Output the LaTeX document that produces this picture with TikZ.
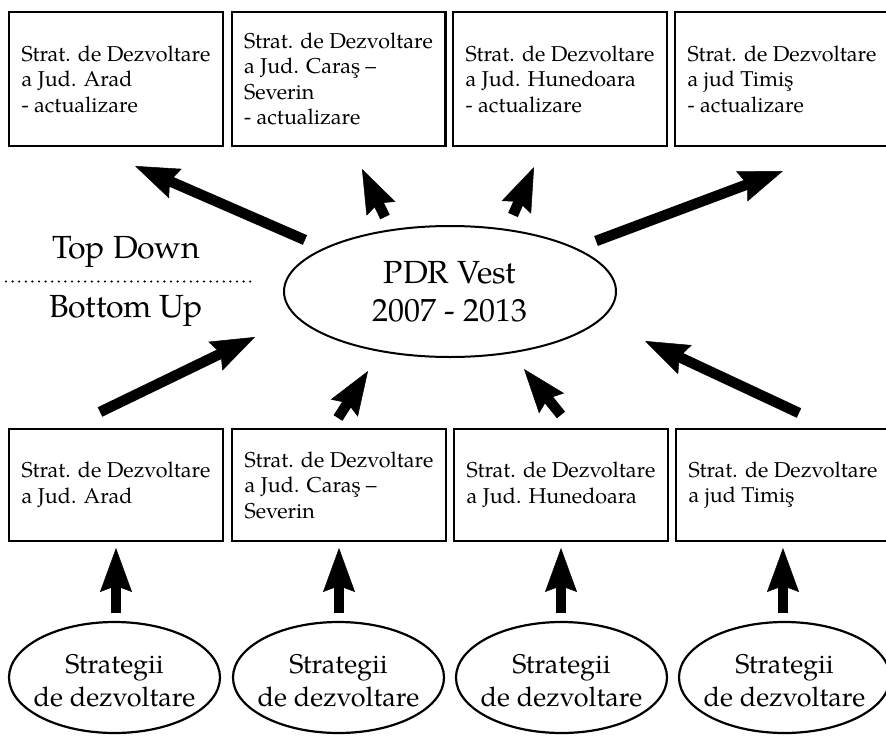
\documentclass[tikz,border=0pt]{standalone}
\usepackage{fontspec}
\setmainfont{TeX Gyre Pagella}
\usetikzlibrary{shapes.geometric,arrows.meta}

\begin{document}
\begin{tikzpicture}[x=1pt,y=-1pt,
  stratbox/.style={draw, line width=2.4pt, rectangle, inner sep=0pt,
    minimum width=213.6pt, align=left,
    font=\fontsize{21.5}{25.5}\selectfont},
  topbox/.style={stratbox, minimum height=133.6pt},
  botbox/.style={stratbox, minimum height=111.6pt},
  source/.style={draw, ellipse, line width=2.2pt, inner sep=0pt,
    minimum width=211pt, minimum height=111pt},
  sourcetext/.style={align=center, inner sep=0pt,
    font=\fontsize{27}{33}\selectfont},
  bigarrow/.style={line width=10.5pt,
    -{Stealth[length=44pt,width=32pt,inset=6pt,line width=0.5pt]}},
  sidelabel/.style={anchor=base, inner sep=0pt, font=\fontsize{32}{38}\selectfont}]

\path[use as bounding box] (0,0) rectangle (886,736);
\clip (0,0) rectangle (886,736);

% updated county strategies
\node[topbox] (t1) at (116,79) {Strat. de Dezvoltare\\a Jud. Arad\\- actualizare};
\node[topbox] (t2) at (338.5,79) {Strat. de Dezvoltare\\a Jud. Caraş –\\Severin\\- actualizare};
\node[topbox] (t3) at (560,79) {Strat. de Dezvoltare\\a Jud. Hunedoara\\- actualizare};
\node[topbox] (t4) at (782,79) {Strat. de Dezvoltare\\a jud Timiş\\- actualizare};

% regional plan
\node[draw, ellipse, line width=2pt, minimum width=332pt, minimum height=131pt,
      inner sep=0pt] (pdr) at (450,291.5) {};
\node[align=center, inner sep=0pt, font=\fontsize{32}{38}\selectfont]
      (pdrtext) at (pdr.center) {PDR Vest\\2007 - 2013};

% direction labels
\node[sidelabel] (topdown) at (126,258) {Top Down};
\node[sidelabel] (bottomup) at (126,317) {Bottom Up};
\coordinate (sepL) at (6,281.5);
\coordinate (sepR) at (253,281.5);
\draw[line width=2.4pt, line cap=round, dash pattern=on 0pt off 6.6pt] (sepL) -- (sepR);

% existing county strategies
\node[botbox] (b1) at (116,485) {Strat. de Dezvoltare\\a Jud. Arad};
\node[botbox] (b2) at (339,485) {Strat. de Dezvoltare\\a Jud. Caraş –\\Severin};
\node[botbox] (b3) at (561,485) {Strat. de Dezvoltare\\a Jud. Hunedoara};
\node[botbox] (b4) at (783,485) {Strat. de Dezvoltare\\a jud Timiş};

% sector strategies
\node[source] (s1) at (114.5,677.5) {};
\node[source] (s2) at (338.5,677.5) {};
\node[source] (s3) at (561.5,677.5) {};
\node[source] (s4) at (784.5,677.5) {};
\foreach \s in {s1,s2,s3,s4}
  \node[sourcetext] (\s text) at ([yshift=-3pt]\s.center) {Strategii\\de dezvoltare};

% arrow ends
\coordinate (d1a) at (305,240); \coordinate (d1b) at (135,166);
\coordinate (d2a) at (385,217); \coordinate (d2b) at (362,169);
\coordinate (d3a) at (513,215); \coordinate (d3b) at (534,167);
\coordinate (d4a) at (596,241); \coordinate (d4b) at (783,171);
\coordinate (u1a) at (100,412); \coordinate (u1b) at (255,337);
\coordinate (u2a) at (338,418); \coordinate (u2b) at (368,371);
\coordinate (u3a) at (561,415); \coordinate (u3b) at (524,369);
\coordinate (u4a) at (799,413); \coordinate (u4b) at (645,341);

% top-down arrows
\foreach \i in {1,...,4} \draw[bigarrow] (d\i a) -- (d\i b);
% bottom-up arrows
\foreach \i in {1,...,4} \draw[bigarrow] (u\i a) -- (u\i b);
% strategies feeding the county boxes
\foreach \i in {1,...,4}
  \draw[bigarrow] ([yshift=8pt]s\i.north -| b\i.south) -- ([yshift=-6pt]b\i.south);

\end{tikzpicture}
\end{document}
